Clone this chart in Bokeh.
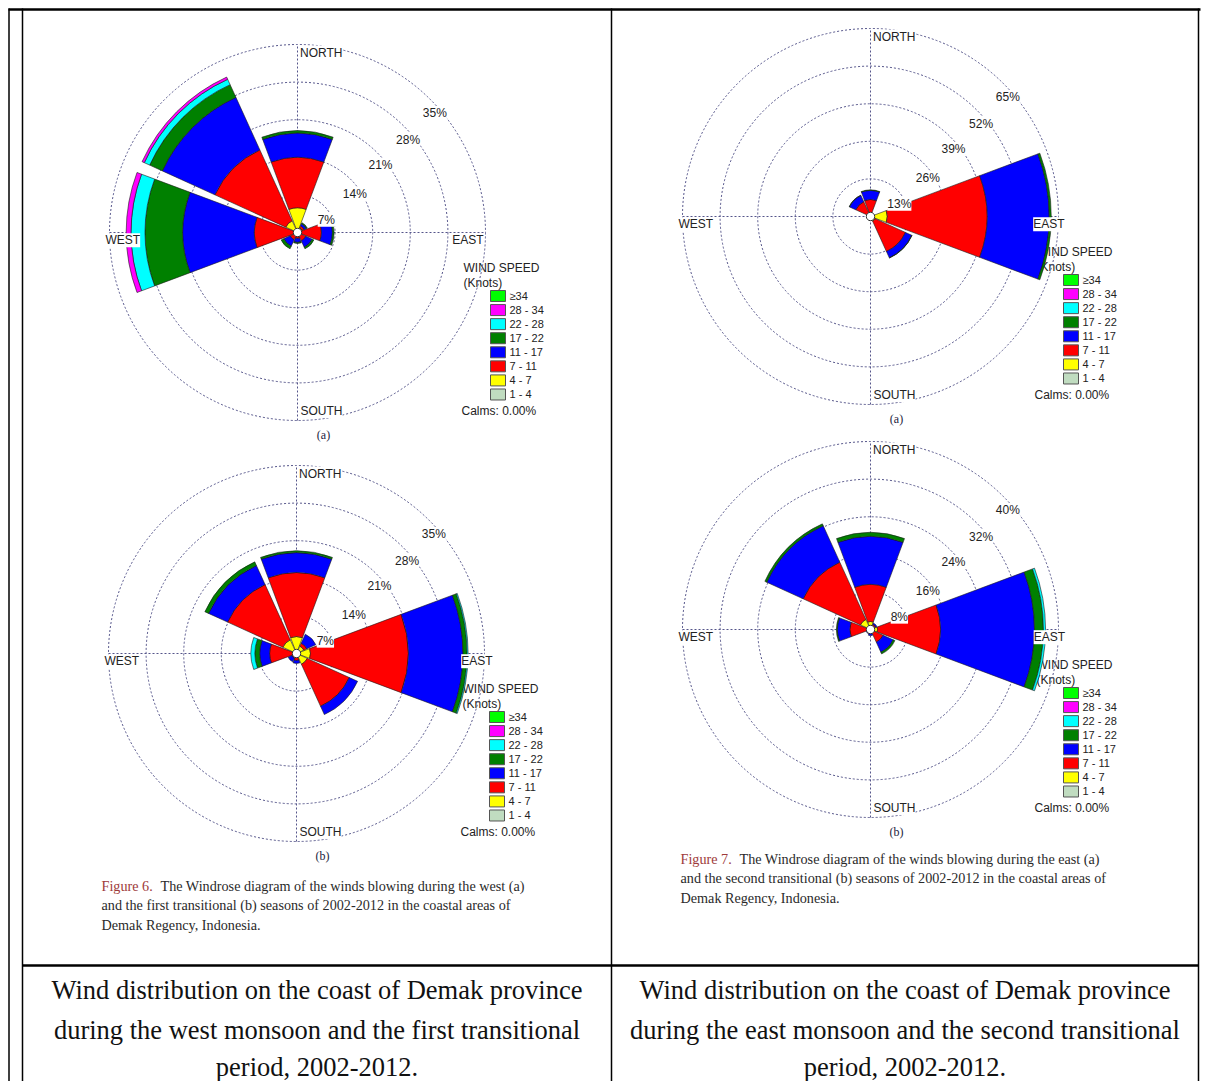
import math
from bokeh.plotting import figure
from bokeh.models import Range1d
from bokeh.embed import file_html
from bokeh.resources import INLINE
from bokeh.core.properties import value

# ---------------------------------------------------------------- data
DIRECTIONS = ["N", "NE", "E", "SE", "S", "SW", "W", "NW"]
DIR_DEG = [90, 45, 0, -45, -90, -135, 180, 135]
SPEED_BINS = ["1 - 4", "4 - 7", "7 - 11", "11 - 17", "17 - 22", "22 - 28", "28 - 34", "\u226534"]
BIN_COLORS = ["#c0dcc0", "#ffff00", "#ff0000", "#0000ff", "#008000", "#00ffff", "#ff00ff", "#00ff00"]

# Figure 6 (a): west monsoon, % frequency per direction (N, NE, E, SE, S, SW, W, NW)
west_1_4 = [0.1, 0.1, 0.1, 0.1, 0.1, 0.1, 0.1, 0.1]
west_4_7 = [4.5, 0.85, 0.65, 0.3, 0.1, 0.3, 0.1, 2.3]
west_7_11 = [9.4, 0.4, 3.7, 1.3, 0.9, 1.1, 7.85, 14.5]
west_11_17 = [4.5, 0.45, 2.05, 1.3, 0.75, 1.3, 13.3, 10.75]
west_17_22 = [0.45, 0.2, 0.3, 0.35, 0.2, 0.55, 7.05, 2.6]
west_22_28 = [0, 0, 0, 0, 0, 0, 2.6, 1.1]
west_28_34 = [0, 0, 0, 0, 0, 0, 0.9, 0.45]
west_34 = [0, 0, 0, 0, 0, 0, 0, 0]
west_rings = [7, 14, 21, 28, 35]

# Figure 7 (a): east monsoon
east_1_4 = [0.1, 0.1, 0.2, 0.2, 0.1, 0.1, 0.1, 0.1]
east_4_7 = [0.3, 0.3, 5.6, 1.6, 0.2, 0.1, 0.1, 0.3]
east_7_11 = [5.5, 0.2, 34.5, 11.5, 0.3, 0.1, 0.2, 5.2]
east_11_17 = [3.1, 0.1, 21.5, 2.4, 0.1, 0, 0, 2.4]
east_17_22 = [0.2, 0, 0.7, 0.1, 0, 0, 0, 0.1]
east_22_28 = [0, 0, 0, 0, 0, 0, 0, 0]
east_28_34 = [0, 0, 0, 0, 0, 0, 0, 0]
east_34 = [0, 0, 0, 0, 0, 0, 0, 0]
east_rings = [13, 26, 39, 52, 65]

# Figure 6 (b): first transitional season
first_1_4 = [0.1, 0.1, 0.1, 0.1, 0.1, 0.1, 0.1, 0.1]
first_4_7 = [3.05, 1.4, 2.5, 2.1, 0.3, 0.1, 0.1, 2.7]
first_7_11 = [11.9, 0.6, 18.2, 8.6, 0.9, 0.75, 4.8, 11.3]
first_11_17 = [3.7, 1.85, 10.2, 1.7, 0.55, 0.75, 1.85, 3.9]
first_17_22 = [0.35, 0, 0.75, 0, 0, 0, 0.9, 0.75]
first_22_28 = [0, 0, 0.2, 0, 0, 0, 0.75, 0]
first_28_34 = [0, 0, 0, 0, 0, 0, 0, 0]
first_34 = [0, 0, 0, 0, 0, 0, 0, 0]
first_rings = [7, 14, 21, 28, 35]

# Figure 7 (b): second transitional season
second_1_4 = [0.1, 0.1, 0.1, 0.1, 0.1, 0.1, 0.1, 0.1]
second_4_7 = [1.6, 0.8, 1.4, 0.3, 0.2, 0.2, 0.35, 2.25]
second_7_11 = [7.9, 0.3, 13.4, 2.55, 0.4, 0.5, 3.95, 13.4]
second_11_17 = [10.2, 0.3, 20.0, 2.35, 0.6, 0.2, 2.65, 8.5]
second_17_22 = [0.85, 0, 1.9, 0.4, 0, 0, 0.2, 0.45]
second_22_28 = [0, 0, 0.45, 0, 0, 0, 0, 0]
second_28_34 = [0, 0, 0, 0, 0, 0, 0, 0]
second_34 = [0, 0, 0, 0, 0, 0, 0, 0]
second_rings = [8, 16, 24, 32, 40]

CALMS = "Calms: 0.00%"

caption6 = ["The Windrose diagram of the winds blowing during the west (a)",
            "and the first transitional (b) seasons of 2002-2012 in the coastal areas of",
            "Demak Regency, Indonesia."]
caption7 = ["The Windrose diagram of the winds blowing during the east (a)",
            "and the second transitional (b) seasons of 2002-2012 in the coastal areas of",
            "Demak Regency, Indonesia."]
cell_left = ["Wind distribution on the coast of Demak province",
             "during the west monsoon and the first transitional",
             "period, 2002-2012."]
cell_right = ["Wind distribution on the coast of Demak province",
              "during the east monsoon and the second transitional",
              "period, 2002-2012."]

# ---------------------------------------------------------------- figure
W, H = 1208, 1081
OX, OY = 0, 0
SANS = value("Liberation Sans")
SERIF = value("Liberation Serif")

p = figure(width=W, height=H, x_range=Range1d(OX, OX + W), y_range=Range1d(OY + H, OY),
           output_backend="svg", toolbar_location=None, min_border=0,
           x_axis_location=None, y_axis_location=None)
p.grid.visible = False
p.outline_line_color = None
p.background_fill_color = "white"

RING_PX = 37.6
HALF = 20.5


def add_rose(name, bins, rings, cx, cy, sub, east_dx):
    step = rings[0]
    s = RING_PX / step
    xr = Range1d((OX - cx) / s, (OX + W - cx) / s)
    yr = Range1d((cy - OY - H) / s, (cy - OY) / s)
    p.extra_x_ranges = {**p.extra_x_ranges, name + "x": xr}
    p.extra_y_ranges = {**p.extra_y_ranges, name + "y": yr}
    kw = dict(x_range_name=name + "x", y_range_name=name + "y")
    R = rings[-1]
    Rpx = R * s

    # legend (under the petals)
    p.text(x=[cx + 166, cx + 166], y=[cy + 35, cy + 50], text=["WIND SPEED", "(Knots)"],
           text_font=SANS, text_font_size="12px", text_color="#222222",
           text_baseline="middle", text_align="left")
    rows = list(range(len(SPEED_BINS)))
    ys = [cy + 63.5 + 14.07 * i for i in rows]
    labels = SPEED_BINS[::-1]
    cols = BIN_COLORS[::-1]
    p.rect(x=[cx + 200.5] * len(rows), y=ys, width=15, height=11, fill_color=cols,
           line_color="#555555", line_width=1)
    p.text(x=[cx + 212] * len(rows), y=ys, text=labels, text_font=SANS,
           text_font_size="11px", text_color="#222222", text_baseline="middle")
    p.text(x=[cx + 164], y=[cy + 178.5], text=[CALMS], text_font=SANS,
           text_font_size="12px", text_color="#222222", text_baseline="middle")

    # grid rings and axes
    p.circle(x=[0] * len(rings), y=[0] * len(rings), radius=rings, fill_color=None,
             line_color="#55558a", line_dash="2 2", line_width=1, **kw)
    p.segment(x0=[-R, 0], y0=[0, -R], x1=[R, 0], y1=[0, R], line_color="#55558a",
              line_dash="2 2", line_width=1, **kw)

    # petals
    cum = [0.0] * len(DIRECTIONS)
    for b, col in zip(bins, BIN_COLORS):
        inner, outer, st, en = [], [], [], []
        for d, v in enumerate(b):
            if v > 0:
                inner.append(cum[d])
                outer.append(cum[d] + v)
                st.append(math.radians(DIR_DEG[d] - HALF))
                en.append(math.radians(DIR_DEG[d] + HALF))
            cum[d] += v
        if inner:
            p.annular_wedge(x=0, y=0, inner_radius=inner, outer_radius=outer,
                            start_angle=st, end_angle=en, fill_color=col,
                            line_color="#1a1a1a", line_width=0.6, **kw)
    p.circle(x=[0], y=[0], radius=[4.2 / s], fill_color="white", line_color="#333333",
             line_width=1, **kw)

    # ring labels
    angs = [24, 34, 39, 40, 41]
    lx = [(r - 6 / s) * math.cos(math.radians(a)) for r, a in zip(rings, angs)]
    ly = [(r - 6 / s) * math.sin(math.radians(a)) for r, a in zip(rings, angs)]
    p.text(x=lx, y=ly, text=[f"{r}%" for r in rings], text_font=SANS,
           text_font_size="12px", text_color="#222222", text_align="center",
           text_baseline="middle", background_fill_color="white", **kw)

    # compass labels (screen coords)
    p.text(x=[cx + 2.5, cx + 3, cx - Rpx - 4], y=[cy - Rpx + 8, cy + Rpx - 9.5, cy + 7.7],
           text=["NORTH", "SOUTH", "WEST"], text_font=SANS, text_font_size="12px",
           text_color="#222222", text_baseline="middle", text_align="left",
           background_fill_color="white")
    p.text(x=[cx + Rpx + east_dx], y=[cy + 7.7], text=["EAST"], text_font=SANS,
           text_font_size="12px", text_color="#222222", text_baseline="middle",
           text_align="right", background_fill_color="white")
    p.text(x=[cx + 26], y=[cy + 202.5], text=[sub], text_font=SERIF,
           text_font_size="12px", text_color="#1c1c3c", text_baseline="middle",
           text_align="center")


add_rose("w6a", [west_1_4, west_4_7, west_7_11, west_11_17, west_17_22, west_22_28, west_28_34, west_34],
         west_rings, 297, 232, "(a)", -2)
add_rose("e7a", [east_1_4, east_4_7, east_7_11, east_11_17, east_17_22, east_22_28, east_28_34, east_34],
         east_rings, 870, 216, "(a)", 6)
add_rose("f6b", [first_1_4, first_4_7, first_7_11, first_11_17, first_17_22, first_22_28, first_28_34, first_34],
         first_rings, 296, 653, "(b)", 8)
add_rose("s7b", [second_1_4, second_4_7, second_7_11, second_11_17, second_17_22, second_22_28, second_28_34, second_34],
         second_rings, 870, 629, "(b)", 6.5)

# captions
for (x0, x1, y0, lab, lines) in [(101, 160, 885, "Figure 6.", caption6), (680, 739, 858, "Figure 7.", caption7)]:
    p.text(x=[x0], y=[y0], text=[lab], text_font=SERIF, text_font_size="14.2px",
           text_color="#9e3a3a", text_baseline="middle")
    p.text(x=[x1, x0, x0], y=[y0, y0 + 19.5, y0 + 39], text=lines, text_font=SERIF,
           text_font_size="14.2px", text_color="#2a2a2a", text_baseline="middle")

# table cells
p.text(x=[316.5] * 3, y=[989, 1029, 1066], text=cell_left, text_font=SERIF,
       text_font_size="26.5px", text_color="#111111", text_align="center", text_baseline="middle")
p.text(x=[904.5] * 3, y=[989, 1029, 1066], text=cell_right, text_font=SERIF,
       text_font_size="26.5px", text_color="#111111", text_align="center", text_baseline="middle")

# table borders
p.segment(x0=[8.5, 22, 611, 1198], y0=[8, 8, 8, 8], x1=[8.5, 22, 611, 1198], y1=[1081] * 4,
          line_color="black", line_width=1.5)
p.segment(x0=[8, 22], y0=[9, 965], x1=[1200, 1198], y1=[9, 965], line_color="black", line_width=2.5)

open("out.html", "w").write(file_html(p, INLINE))
